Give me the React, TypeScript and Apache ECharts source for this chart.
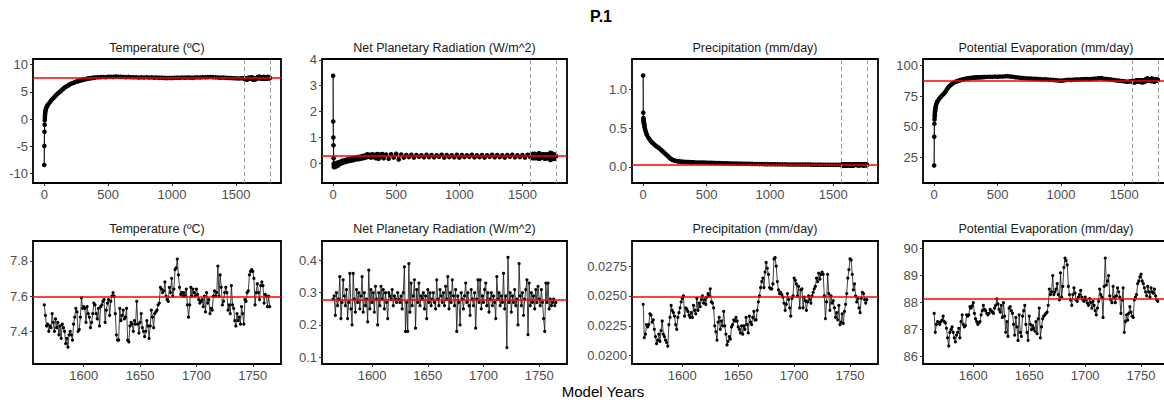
import React, { useEffect, useRef } from "react";
import * as echarts from "echarts";

// ---------- DATA ----------
const LATE_START = 1565;

// Spin-up (years 0..1560) values, [year, value]
const TEMP_SPINUP: [number, number][] = [
  [0, -8.4], [1, -4.9], [2, -2.3], [3, -1.0], [4, -0.2], [5, 0.3], [6, 0.7], [7, 1.0], [8, 1.3], [10, 1.6], [12, 1.8], [15, 2.0], [20, 2.3], [25, 2.5], [30, 2.7],
  [40, 3.0], [50, 3.3], [60, 3.6], [70, 3.85], [80, 4.1], [90, 4.35], [100, 4.6], [110, 4.8], [120, 5.0], [130, 5.2], [140, 5.4], [150, 5.6], [160, 5.8], [170, 5.95], [180, 6.1], [190, 6.25], [200, 6.4], [210, 6.5], [220, 6.6], [230, 6.7], [240, 6.8], [250, 6.9], [260, 6.95], [270, 7.0], [280, 7.1], [290, 7.15], [300, 7.2], [310, 7.3], [320, 7.35], [330, 7.4], [340, 7.45], [350, 7.5], [360, 7.5], [370, 7.55], [380, 7.6], [390, 7.6], [400, 7.65],
  [420, 7.7], [440, 7.72], [460, 7.75], [480, 7.7], [500, 7.78], [520, 7.8], [540, 7.76], [560, 7.82], [580, 7.8], [600, 7.78], [620, 7.75], [640, 7.72], [660, 7.76], [680, 7.7], [700, 7.68], [720, 7.7], [740, 7.65], [760, 7.68], [780, 7.66], [800, 7.7], [820, 7.65], [840, 7.68], [860, 7.62], [880, 7.66], [900, 7.6], [920, 7.62], [940, 7.58], [960, 7.55], [980, 7.58], [1000, 7.55], [1020, 7.6], [1040, 7.62], [1060, 7.6], [1080, 7.65], [1100, 7.62], [1120, 7.66], [1140, 7.64], [1160, 7.6], [1180, 7.65], [1200, 7.68], [1220, 7.66], [1240, 7.7], [1260, 7.68], [1280, 7.72], [1300, 7.75], [1320, 7.72], [1340, 7.68], [1360, 7.66], [1380, 7.62], [1400, 7.65], [1420, 7.6], [1440, 7.58], [1460, 7.55], [1480, 7.52], [1500, 7.5], [1520, 7.48], [1540, 7.5], [1560, 7.52],
];

const RAD_SPINUP: [number, number][] = [
  [0, 3.38], [1, 1.62], [2, 1.0], [3, 0.7], [4, 0.2], [5, -0.02], [6, -0.12], [7, -0.05], [8, -0.15], [10, -0.08], [12, 0.0], [15, -0.1], [20, -0.03], [25, -0.12], [30, 0.02],
  [40, -0.08], [50, 0.05], [60, -0.02], [70, 0.1], [80, 0.02], [90, 0.12], [100, 0.05], [110, 0.15], [120, 0.08], [130, 0.18], [140, 0.1], [150, 0.2], [160, 0.12], [170, 0.22], [180, 0.15], [190, 0.24], [200, 0.16], [210, 0.25], [220, 0.18], [230, 0.28], [240, 0.2], [250, 0.3], [260, 0.22], [270, 0.35], [280, 0.25], [290, 0.33], [300, 0.22], [310, 0.35], [320, 0.24], [330, 0.33], [340, 0.2], [350, 0.36], [360, 0.18], [370, 0.34], [380, 0.25], [390, 0.36], [400, 0.2],
  [420, 0.34], [440, 0.18], [460, 0.35], [480, 0.22], [500, 0.37], [520, 0.15], [540, 0.34], [560, 0.22], [580, 0.32], [600, 0.24], [620, 0.33], [640, 0.22], [660, 0.32], [680, 0.25], [700, 0.31], [720, 0.23], [740, 0.33], [760, 0.24], [780, 0.32], [800, 0.23], [820, 0.31], [840, 0.25], [860, 0.33], [880, 0.22], [900, 0.32], [920, 0.24], [940, 0.31], [960, 0.23], [980, 0.33], [1000, 0.22], [1020, 0.32], [1040, 0.24], [1060, 0.31], [1080, 0.25], [1100, 0.33], [1120, 0.23], [1140, 0.31], [1160, 0.24], [1180, 0.32], [1200, 0.22], [1220, 0.31], [1240, 0.25], [1260, 0.33], [1280, 0.23], [1300, 0.32], [1320, 0.24], [1340, 0.31], [1360, 0.22], [1380, 0.32], [1400, 0.25], [1420, 0.33], [1440, 0.23], [1460, 0.31], [1480, 0.24], [1500, 0.32], [1520, 0.22], [1540, 0.33], [1560, 0.25],
];

const PREC_SPINUP: [number, number][] = [
  [0, 1.18], [1, 0.7], [2, 0.63], [3, 0.61], [4, 0.6], [5, 0.58], [6, 0.57], [7, 0.56], [8, 0.55], [10, 0.53], [12, 0.51], [15, 0.49], [20, 0.46], [25, 0.43], [30, 0.41],
  [40, 0.38], [50, 0.355], [60, 0.335], [70, 0.315], [80, 0.3], [90, 0.285], [100, 0.27], [110, 0.26], [120, 0.25], [130, 0.235], [140, 0.22], [150, 0.205], [160, 0.19], [170, 0.175], [180, 0.16], [190, 0.145], [200, 0.13], [210, 0.115], [220, 0.102], [230, 0.092], [240, 0.085], [250, 0.079], [260, 0.075], [270, 0.072], [280, 0.069], [290, 0.067], [300, 0.065], [310, 0.064], [320, 0.063], [330, 0.062], [340, 0.062], [350, 0.061], [360, 0.06], [370, 0.06], [380, 0.059], [390, 0.058], [400, 0.058],
  [420, 0.056], [440, 0.055], [460, 0.055], [480, 0.054], [500, 0.053], [520, 0.052], [540, 0.051], [560, 0.05], [580, 0.049], [600, 0.048], [620, 0.047], [640, 0.046], [660, 0.045], [680, 0.044], [700, 0.043], [720, 0.042], [740, 0.041], [760, 0.04], [780, 0.04], [800, 0.039], [820, 0.038], [840, 0.038], [860, 0.037], [880, 0.036], [900, 0.036], [920, 0.035], [940, 0.035], [960, 0.034], [980, 0.034], [1000, 0.033], [1020, 0.033], [1040, 0.032], [1060, 0.032], [1080, 0.031], [1100, 0.031], [1120, 0.031], [1140, 0.03], [1160, 0.03], [1180, 0.03], [1200, 0.029], [1220, 0.029], [1240, 0.029], [1260, 0.028], [1280, 0.028], [1300, 0.028], [1320, 0.028], [1340, 0.027], [1360, 0.027], [1380, 0.027], [1400, 0.027], [1420, 0.026], [1440, 0.026], [1460, 0.026], [1480, 0.026], [1500, 0.025], [1520, 0.025], [1540, 0.025], [1560, 0.025],
];

const PET_SPINUP: [number, number][] = [
  [0, 18.5], [1, 42], [2, 52.5], [3, 56], [4, 58.5], [5, 60], [6, 61.5], [7, 62.5], [8, 63.5], [10, 65], [12, 66.5], [15, 68], [20, 69.5], [25, 70.5], [30, 71.5],
  [40, 73], [50, 74.3], [60, 75.5], [70, 76.5], [80, 77.5], [90, 79], [100, 80.5], [110, 82], [120, 83.2], [130, 84.2], [140, 85.1], [150, 85.8], [160, 86.4], [170, 86.9], [180, 87.3], [190, 87.7], [200, 88.0], [210, 88.3], [220, 88.6], [230, 88.8], [240, 89.1], [250, 89.3], [260, 89.5], [270, 89.7], [280, 89.9], [290, 90.0], [300, 90.1], [310, 90.2], [320, 90.3], [330, 90.4], [340, 90.5], [350, 90.5], [360, 90.6], [370, 90.6], [380, 90.7], [390, 90.7], [400, 90.8],
  [420, 90.9], [440, 91.0], [460, 90.9], [480, 91.1], [500, 91.0], [520, 91.2], [540, 91.1], [560, 91.4], [580, 91.5], [600, 91.2], [620, 91.0], [640, 90.6], [660, 90.4], [680, 90.2], [700, 89.9], [720, 89.8], [740, 89.6], [760, 89.5], [780, 89.3], [800, 89.4], [820, 89.2], [840, 89.0], [860, 88.8], [880, 88.9], [900, 88.6], [920, 88.5], [940, 88.4], [960, 88.2], [980, 88.0], [1000, 87.8], [1020, 88.0], [1040, 88.3], [1060, 88.5], [1080, 88.4], [1100, 88.6], [1120, 88.8], [1140, 88.7], [1160, 88.9], [1180, 89.0], [1200, 89.1], [1220, 88.9], [1240, 89.2], [1260, 89.3], [1280, 89.5], [1300, 89.7], [1320, 89.9], [1340, 89.4], [1360, 89.2], [1380, 88.9], [1400, 88.6], [1420, 88.3], [1440, 88.0], [1460, 87.8], [1480, 87.5], [1500, 87.3], [1520, 87.0], [1540, 87.2], [1560, 87.4],
];

// Final 201 years (1565..1765), one value per year
const TEMP_LATE = [
  7.55, 7.49, 7.43, 7.44, 7.40, 7.43, 7.42, 7.50, 7.45, 7.40,
  7.47, 7.42, 7.45, 7.38, 7.43, 7.36, 7.44, 7.42, 7.40, 7.33,
  7.36, 7.31, 7.38, 7.40, 7.38, 7.35, 7.44, 7.48, 7.53, 7.51,
  7.40, 7.41, 7.48, 7.59, 7.53, 7.54, 7.53, 7.45, 7.54, 7.50,
  7.48, 7.42, 7.45, 7.50, 7.56, 7.55, 7.50, 7.47, 7.53, 7.43,
  7.54, 7.55, 7.57, 7.58, 7.45, 7.52, 7.56, 7.58, 7.49, 7.57,
  7.60, 7.62, 7.60, 7.50, 7.38, 7.35, 7.35, 7.53, 7.46, 7.49,
  7.52, 7.47, 7.48, 7.53, 7.35, 7.34, 7.43, 7.45, 7.44, 7.40,
  7.46, 7.44, 7.57, 7.44, 7.39, 7.45, 7.50, 7.42, 7.40, 7.37,
  7.40, 7.46, 7.43, 7.36, 7.43, 7.52, 7.48, 7.42, 7.50, 7.51,
  7.52, 7.55, 7.56, 7.65, 7.64, 7.62, 7.63, 7.68, 7.60, 7.58,
  7.57, 7.65, 7.62, 7.70, 7.60, 7.64, 7.75, 7.76, 7.81, 7.72,
  7.65, 7.61, 7.62, 7.60, 7.62, 7.60, 7.64, 7.55, 7.48, 7.55,
  7.65, 7.60, 7.64, 7.62, 7.60, 7.64, 7.61, 7.58, 7.56, 7.57,
  7.58, 7.54, 7.60, 7.51, 7.62, 7.56, 7.58, 7.50, 7.53, 7.52,
  7.60, 7.63, 7.60, 7.62, 7.77, 7.60, 7.72, 7.65, 7.55, 7.57,
  7.62, 7.65, 7.62, 7.52, 7.55, 7.50, 7.66, 7.55, 7.53, 7.46,
  7.43, 7.50, 7.46, 7.48, 7.44, 7.54, 7.50, 7.44, 7.58, 7.57,
  7.62, 7.63, 7.72, 7.74, 7.75, 7.74, 7.70, 7.55, 7.62, 7.67,
  7.62, 7.58, 7.66, 7.68, 7.66, 7.56, 7.61, 7.60, 7.54, 7.60,
  7.54,
];

const RAD_LATE = [
  0.28, 0.29, 0.23, 0.30, 0.26, 0.28, 0.35, 0.22, 0.27, 0.34,
  0.29, 0.26, 0.31, 0.22, 0.27, 0.36, 0.25, 0.20, 0.36, 0.28,
  0.24, 0.31, 0.27, 0.30, 0.25, 0.29, 0.35, 0.24, 0.30, 0.26,
  0.28, 0.21, 0.37, 0.25, 0.31, 0.27, 0.30, 0.24, 0.32, 0.28,
  0.20, 0.30, 0.26, 0.32, 0.28, 0.31, 0.25, 0.30, 0.27, 0.22,
  0.30, 0.29, 0.28, 0.31, 0.26, 0.29, 0.28, 0.27, 0.30, 0.28,
  0.27, 0.29, 0.25, 0.30, 0.38, 0.18, 0.27, 0.18, 0.39, 0.24,
  0.33, 0.26, 0.29, 0.34, 0.19, 0.31, 0.27, 0.33, 0.26, 0.29,
  0.28, 0.30, 0.25, 0.29, 0.22, 0.31, 0.27, 0.30, 0.26, 0.28,
  0.30, 0.27, 0.25, 0.34, 0.28, 0.26, 0.31, 0.29, 0.27, 0.30,
  0.26, 0.32, 0.28, 0.35, 0.25, 0.30, 0.27, 0.34, 0.29, 0.26,
  0.31, 0.18, 0.29, 0.27, 0.20, 0.30, 0.28, 0.25, 0.29, 0.33,
  0.27, 0.30, 0.26, 0.23, 0.31, 0.28, 0.26, 0.30, 0.19, 0.28,
  0.34, 0.27, 0.34, 0.25, 0.29, 0.27, 0.31, 0.33, 0.26, 0.30,
  0.24, 0.28, 0.30, 0.26, 0.29, 0.27, 0.22, 0.35, 0.28, 0.30,
  0.26, 0.29, 0.27, 0.36, 0.25, 0.29, 0.13, 0.41, 0.27, 0.30,
  0.24, 0.29, 0.27, 0.31, 0.26, 0.28, 0.20, 0.39, 0.29, 0.26,
  0.30, 0.23, 0.28, 0.31, 0.34, 0.17, 0.33, 0.26, 0.30, 0.27,
  0.29, 0.25, 0.31, 0.27, 0.32, 0.28, 0.26, 0.31, 0.27, 0.22,
  0.18, 0.33, 0.27, 0.33, 0.25, 0.28, 0.26, 0.27, 0.28, 0.26,
  0.27,
];

const PREC_LATE = [
  0.0243, 0.0215, 0.0218, 0.0226, 0.0224, 0.0226, 0.0235, 0.0234, 0.0228, 0.0230,
  0.0222, 0.0216, 0.0210, 0.0213, 0.0218, 0.0212, 0.0221, 0.0229, 0.0218, 0.0216,
  0.0213, 0.0211, 0.0208, 0.0226, 0.0232, 0.0242, 0.0238, 0.0236, 0.0233, 0.0226,
  0.0222, 0.0232, 0.0236, 0.0240, 0.0245, 0.0248, 0.0250, 0.0233, 0.0240, 0.0239,
  0.0237, 0.0234, 0.0232, 0.0236, 0.0232, 0.0242, 0.0238, 0.0235, 0.0248, 0.0238,
  0.0244, 0.0241, 0.0247, 0.0250, 0.0244, 0.0247, 0.0243, 0.0249, 0.0252, 0.0250,
  0.0256, 0.0245, 0.0244, 0.0240, 0.0225, 0.0220, 0.0213, 0.0228, 0.0232, 0.0222,
  0.0229, 0.0225, 0.0237, 0.0225, 0.0218, 0.0209, 0.0212, 0.0216, 0.0214, 0.0224,
  0.0226, 0.0230, 0.0229, 0.0232, 0.0229, 0.0224, 0.0222, 0.0219, 0.0225, 0.0218,
  0.0225, 0.0222, 0.0232, 0.0226, 0.0219, 0.0233, 0.0228, 0.0226, 0.0232, 0.0237,
  0.0230, 0.0230, 0.0238, 0.0245, 0.0250, 0.0257, 0.0262, 0.0265, 0.0257, 0.0270,
  0.0278, 0.0273, 0.0268, 0.0257, 0.0256, 0.0256, 0.0260, 0.0281, 0.0282, 0.0275,
  0.0262, 0.0255, 0.0252, 0.0253, 0.0251, 0.0249, 0.0244, 0.0238, 0.0243, 0.0252,
  0.0247, 0.0240, 0.0233, 0.0248, 0.0250, 0.0265, 0.0263, 0.0260, 0.0250, 0.0258,
  0.0240, 0.0255, 0.0256, 0.0240, 0.0249, 0.0246, 0.0238, 0.0245, 0.0250, 0.0247,
  0.0244, 0.0250, 0.0253, 0.0256, 0.0258, 0.0265, 0.0262, 0.0269, 0.0264, 0.0268,
  0.0270, 0.0268, 0.0250, 0.0231, 0.0245, 0.0268, 0.0252, 0.0238, 0.0250, 0.0244,
  0.0246, 0.0240, 0.0232, 0.0236, 0.0230, 0.0242, 0.0226, 0.0228, 0.0235, 0.0227,
  0.0237, 0.0243, 0.0252, 0.0265, 0.0272, 0.0281, 0.0280, 0.0268, 0.0255, 0.0260,
  0.0250, 0.0245, 0.0248, 0.0240, 0.0236, 0.0248, 0.0253, 0.0252, 0.0247, 0.0244,
  0.0247,
];

const PET_LATE = [
  87.6, 86.9, 87.2, 87.3, 87.27, 87.2, 87.3, 87.35, 87.5, 87.3,
  87.25, 87.05, 86.7, 86.4, 86.9, 87.0, 87.1, 86.9, 86.7, 86.55,
  86.8, 86.9, 87.05, 86.7, 87.3, 87.55, 87.2, 87.1, 87.15, 87.55,
  87.5, 87.55, 87.85, 87.8, 87.88, 88.0, 87.6, 87.4, 87.3, 87.2,
  87.25, 87.3, 87.55, 87.7, 87.9, 87.75, 87.7, 87.6, 87.55, 87.6,
  87.75, 87.7, 87.65, 87.6, 87.8, 87.9, 88.14, 87.95, 87.75, 87.65,
  87.9, 87.45, 88.0, 87.5, 86.9, 87.3, 86.75, 87.8, 87.85, 87.7,
  87.6, 87.2, 86.8, 87.45, 87.1, 86.6, 87.55, 86.9, 86.75, 87.5,
  87.7, 87.9, 87.2, 86.9, 86.6, 87.5, 87.2, 87.0, 87.15, 87.05,
  86.95, 87.3, 86.85, 87.4, 87.8, 86.7, 87.1, 87.4, 87.5, 87.55,
  87.6, 87.65, 87.9, 88.5, 88.3, 88.4, 89.0, 88.3, 88.4, 88.5,
  88.7, 88.3, 88.1, 89.1, 88.2, 88.6, 89.3, 89.65, 89.55, 89.4,
  88.6, 88.3, 88.1, 87.9, 88.3, 88.55, 88.35, 88.1, 88.05, 88.2,
  88.3, 88.45, 88.2, 88.1, 88.05, 88.2, 88.1, 87.98, 87.9, 88.15,
  88.0, 87.8, 88.05, 87.9, 87.7, 87.55, 87.8, 88.05, 88.5, 88.3,
  88.2, 87.45, 88.6, 89.65, 88.65, 88.8, 89.0, 88.25, 88.1, 88.0,
  88.6, 88.2, 88.0, 88.25, 88.55, 88.4, 88.2, 87.6, 88.1, 88.55,
  86.9, 87.3, 87.55, 87.35, 87.6, 87.85, 87.65, 87.5, 87.45, 88.1,
  88.2, 88.3, 88.7, 88.8, 88.95, 89.05, 88.8, 88.7, 88.55, 88.4,
  88.25, 88.6, 88.4, 88.2, 88.55, 88.4, 88.35, 88.5, 88.25, 88.1,
  88.05,
];

// Reference (red) lines: mean of the final period
const TEMP_REF = 7.595;
const RAD_REF = 0.2775;
const PREC_REF = 0.02495;
const PET_REF = 88.13;

// Window markers (dashed lines) on spin-up panels
const WINDOW_MARKS = [1565, 1765];

const TITLES = [
  "Temperature (ºC)",
  "Net Planetary Radiation (W/m^2)",
  "Precipitation (mm/day)",
  "Potential Evaporation (mm/day)",
];
const TOP_X_TICKS = [0, 500, 1000, 1500];
const BOT_X_TICKS = [1600, 1650, 1700, 1750];
const TOP_Y_TICKS = [[-10, -5, 0, 5, 10], [0, 1, 2, 3, 4], [0, 0.5, 1.0], [25, 50, 75, 100]];
const BOT_Y_TICKS = [[7.4, 7.6, 7.8], [0.1, 0.2, 0.3, 0.4], [0.02, 0.0225, 0.025, 0.0275], [86, 87, 88, 89, 90]];
const TOP_Y_RANGE = [[-11.7, 11.05], [-0.76, 4.03], [-0.21, 1.395], [4.2, 105.5]];
const BOT_Y_RANGE = [[7.214, 7.913], [0.079, 0.4605], [0.0193, 0.0296], [85.73, 90.28]];
const TOP_X_RANGE = [-88, 1853];
const BOT_X_RANGE = [1555, 1775];

// ---------- LAYOUT ----------
const FONT = '"Liberation Sans", Arial, Helvetica, sans-serif';
const COL_LEFT = [33, 322, 632, 923];
const COL_WIDTH = [248, 245, 246, 246];
const TOP_Y = 59;
const TOP_H = 124;
const BOT_Y = 241;
const BOT_H = 123;

const LATE_YEARS = TEMP_LATE.map((_, i) => LATE_START + i);
const late = (vals: number[]) => vals.map((v, i) => [LATE_YEARS[i], v]);

const TOP_DATA = [
  [...TEMP_SPINUP, ...late(TEMP_LATE)],
  [...RAD_SPINUP, ...late(RAD_LATE)],
  [...PREC_SPINUP, ...late(PREC_LATE)],
  [...PET_SPINUP, ...late(PET_LATE)],
];
const BOT_DATA = [late(TEMP_LATE), late(RAD_LATE), late(PREC_LATE), late(PET_LATE)];
const REFS = [TEMP_REF, RAD_REF, PREC_REF, PET_REF];

const TOP_FMT = [(v: number) => String(v), (v: number) => String(v), (v: number) => v.toFixed(1), (v: number) => String(v)];
const BOT_FMT = [(v: number) => v.toFixed(1), (v: number) => v.toFixed(1), (v: number) => v.toFixed(4), (v: number) => String(v)];

function buildOption() {
  const grid: any[] = [];
  const xAxis: any[] = [];
  const yAxis: any[] = [];
  const series: any[] = [];
  const graphic: any[] = [];

  const tickStyle = { show: true, length: 3, lineStyle: { color: "#333", width: 1 } };
  const labelBase = { color: "#4d4d4d", fontSize: 13, fontFamily: FONT };

  for (let row = 0; row < 2; row++) {
    for (let col = 0; col < 4; col++) {
      const idx = row * 4 + col;
      const top = row === 0;
      grid.push({
        left: COL_LEFT[col],
        top: top ? TOP_Y : BOT_Y,
        width: COL_WIDTH[col],
        height: top ? TOP_H : BOT_H,
        show: true,
        borderColor: "#000",
        borderWidth: 1.8,
        backgroundColor: "#fff",
        containLabel: false,
        outerBoundsMode: "none",
      });
      const xt = top ? TOP_X_TICKS : BOT_X_TICKS;
      const xr = top ? TOP_X_RANGE : BOT_X_RANGE;
      xAxis.push({
        type: "value",
        gridIndex: idx,
        position: "bottom",
        min: xr[0],
        max: xr[1],
        axisLine: { show: false, onZero: false },
        splitLine: { show: false },
        axisTick: { ...tickStyle, customValues: xt },
        axisLabel: { ...labelBase, margin: 5, customValues: xt, formatter: (v: number) => String(v) },
      });
      const yt = top ? TOP_Y_TICKS[col] : BOT_Y_TICKS[col];
      const yr = top ? TOP_Y_RANGE[col] : BOT_Y_RANGE[col];
      const fmt = top ? TOP_FMT[col] : BOT_FMT[col];
      yAxis.push({
        type: "value",
        gridIndex: idx,
        position: "left",
        min: yr[0],
        max: yr[1],
        axisLine: { show: false, onZero: false },
        splitLine: { show: false },
        axisTick: { ...tickStyle, customValues: yt },
        axisLabel: { ...labelBase, margin: 5, customValues: yt, formatter: fmt },
      });

      const markData: any[] = [
        { yAxis: REFS[col], lineStyle: { color: "#ff0000", width: 1.6, type: "solid" } },
      ];
      if (top) {
        WINDOW_MARKS.forEach((m) =>
          markData.push({ xAxis: m, lineStyle: { color: "#9a9a9a", width: 1, type: [4, 3] } })
        );
      }
      // reference lines underneath the data
      series.push({
        type: "line",
        xAxisIndex: idx,
        yAxisIndex: idx,
        data: [],
        z: 1,
        silent: true,
        markLine: {
          silent: true,
          symbol: "none",
          precision: 6,
          label: { show: false },
          data: markData,
        },
      });
      series.push({
        type: "line",
        xAxisIndex: idx,
        yAxisIndex: idx,
        data: top ? TOP_DATA[col] : BOT_DATA[col],
        z: 3,
        symbol: "circle",
        symbolSize: top ? 4.6 : 3.2,
        showSymbol: true,
        showAllSymbol: true,
        itemStyle: { color: "#000" },
        lineStyle: { color: "#111", width: top ? 1.2 : 0.8 },
        clip: true,
        silent: true,
      });

      graphic.push({
        type: "text",
        x: COL_LEFT[col] + COL_WIDTH[col] / 2,
        y: top ? 48 : 229,
        style: {
          text: TITLES[col],
          fontSize: 12.5,
          fontFamily: FONT,
          fill: "#1a1a1a",
          textAlign: "center",
          textVerticalAlign: "middle",
        },
      });
    }
  }

  graphic.push({
    type: "text",
    x: 601,
    y: 16,
    style: { text: "P.1", fontSize: 16, fontWeight: "bold", fontFamily: FONT, fill: "#000", textAlign: "center", textVerticalAlign: "middle" },
  });
  graphic.push({
    type: "text",
    x: 603,
    y: 391,
    style: { text: "Model Years", fontSize: 15, fontFamily: FONT, fill: "#000", textAlign: "center", textVerticalAlign: "middle" },
  });

  return {
    animation: false,
    backgroundColor: "#fff",
    grid,
    xAxis,
    yAxis,
    series,
    graphic,
  };
}

export default function App() {
  const ref = useRef<HTMLDivElement>(null);
  useEffect(() => {
    if (!ref.current) return;
    const chart = echarts.init(ref.current, null, { renderer: "svg" });
    chart.setOption(buildOption() as any);
    return () => chart.dispose();
  }, []);
  return (
    <div
      ref={ref}
      style={{ position: "absolute", left: 0, top: 0, width: 1164, height: 400, background: "#fff" }}
    />
  );
}
